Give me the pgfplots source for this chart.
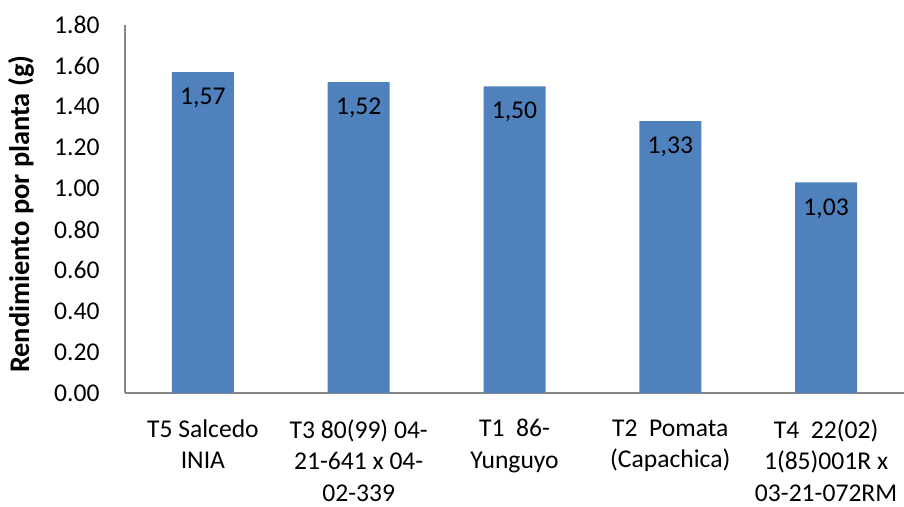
\documentclass[border=0pt]{standalone}
\usepackage{fontspec}
\setmainfont{Carlito}
\usepackage{pgfplots}
\pgfplotsset{compat=1.18}
\definecolor{barblue}{RGB}{79,129,189}
\definecolor{axisgray}{RGB}{134,134,134}
\begin{document}
\fontsize{12.8}{16}\selectfont
\begin{tikzpicture}
\begin{axis}[
  scale only axis,
  width=389.5pt, height=184pt,
  ybar, bar width=31pt,
  xmin=-0.5, xmax=4.5,
  ymin=0, ymax=1.8,
  ytick={0,0.2,...,1.81},
  xtick=data,
  xticklabels={
    T5 Salcedo\\INIA,
    T3 80(99) 04-\\21-641 x 04-\\02-339,
    T1~~86-\\Yunguyo,
    T2~~Pomata\\(Capachica),
    T4~~22(02)\\1(85)001R x\\03-21-072RM},
  axis x line*=bottom, axis y line*=left,
  axis line style={axisgray, line width=0.8pt, -},
  major tick length=0pt,
  /pgf/number format/assume math mode=true,
  yticklabel style={/pgf/number format/.cd, fixed, fixed zerofill, precision=2,
    /tikz/.cd, inner sep=0pt, anchor=east, xshift=-12.5pt},
  xticklabel style={align=center, inner sep=0pt, anchor=north, yshift=-13pt,
    font=\fontsize{12.8}{15.8}\selectfont},
  ylabel={\textbf{Rendimiento por planta (g)}},
  ylabel style={at={(axis description cs:-0.1335,0.486)}, anchor=center, rotate=0,
    font=\fontsize{14.2}{16}\selectfont},
  nodes near coords,
  nodes near coords style={/pgf/number format/.cd, fixed, fixed zerofill, precision=2, use comma,
    /tikz/.cd, anchor=center, yshift=-13pt, text=black},
  enlarge x limits=false,
  clip=false,
]
\addplot[fill=barblue, draw=none] coordinates {(0,1.57) (1,1.52) (2,1.50) (3,1.33) (4,1.03)};
\end{axis}
\pgfresetboundingbox
\useasboundingbox ([xshift=-62.5pt,yshift=-57pt]current axis.south west) rectangle ([yshift=12.5pt]current axis.north east);
\end{tikzpicture}
\end{document}
